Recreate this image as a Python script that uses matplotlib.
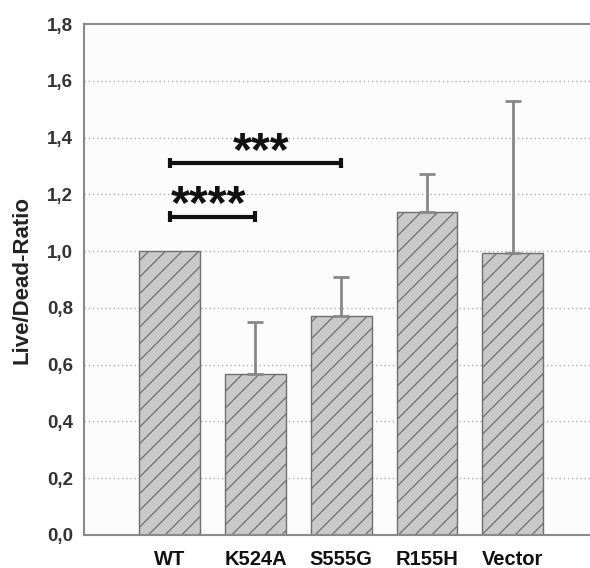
import matplotlib
matplotlib.use("Agg")
import matplotlib.pyplot as plt

categories = ["WT", "K524A", "S555G", "R155H", "Vector"]
values = [1.0, 0.567, 0.771, 1.137, 0.992]
err_upper = [0.0, 0.183, 0.139, 0.136, 0.537]
yticks = [0.0, 0.2, 0.4, 0.6, 0.8, 1.0, 1.2, 1.4, 1.6, 1.8]
ytick_labels = ["0,0", "0,2", "0,4", "0,6", "0,8", "1,0", "1,2", "1,4", "1,6", "1,8"]
# (from index, to index, bracket height, label)
sig_pairs = [(0, 2, 1.31, "***"), (0, 1, 1.121, "****")]

plt.rcParams['font.family'] = ['Liberation Sans', 'DejaVu Sans']
plt.rcParams['hatch.linewidth'] = 0.9

fig = plt.figure(figsize=(5.9, 5.68), dpi=100)
ax = fig.add_axes([84/590, 1-535/568, (590-84)/590 + 0.01, (535-24)/568])
ax.set_facecolor("#fcfcfc")

x = list(range(len(categories)))
ax.bar(x, values, width=0.706, color="#c9c9c9", edgecolor="#6e6e6e",
       hatch="//", linewidth=1.0, zorder=2)
ex = [i for i in x if err_upper[i] > 0]
ax.errorbar(ex, [values[i] for i in ex],
            yerr=[[0]*len(ex), [err_upper[i] for i in ex]], fmt="none",
            ecolor="#888888", elinewidth=2, capsize=6, capthick=2, zorder=3)

label_dx = {"***": 0.065, "****": -0.047}
for i, j, y, label in sig_pairs:
    ax.plot([i, j], [y, y], color="#111111", lw=3, zorder=4, solid_capstyle="butt")
    for xx in (i, j):
        ax.plot([xx, xx], [y-0.019, y+0.019], color="#111111", lw=3, zorder=4,
                solid_capstyle="butt")
    ax.text((i + j) / 2 + label_dx[label], y - 0.006, label,
            ha="center", va="baseline", fontsize=35, fontweight="bold", color="#111111")

ax.set_xlim(-1.0, 4.97)
ax.set_ylim(0, 1.8)
ax.set_yticks(yticks)
ax.set_yticklabels(ytick_labels, fontsize=13.5, fontweight="bold", color="#333333")
ax.set_xticks(x)
ax.set_xticklabels(categories, fontsize=14.5, fontweight="bold", color="#111111")
ax.tick_params(length=0)
ax.tick_params(axis="y", pad=8)
ax.tick_params(axis="x", pad=11)
ax.set_ylabel("Live/Dead-Ratio", fontsize=16, fontweight="bold", color="#222222", labelpad=10)

for yv in yticks[1:-1]:
    ax.axhline(yv, color="#b0b0b0", lw=1, ls=(0, (1, 2)), zorder=1)

for s in ["left", "bottom", "top"]:
    ax.spines[s].set_color("#8a8a8a")
    ax.spines[s].set_linewidth(1.5)
ax.spines["right"].set_visible(False)

fig.savefig("out.png", dpi=100)
